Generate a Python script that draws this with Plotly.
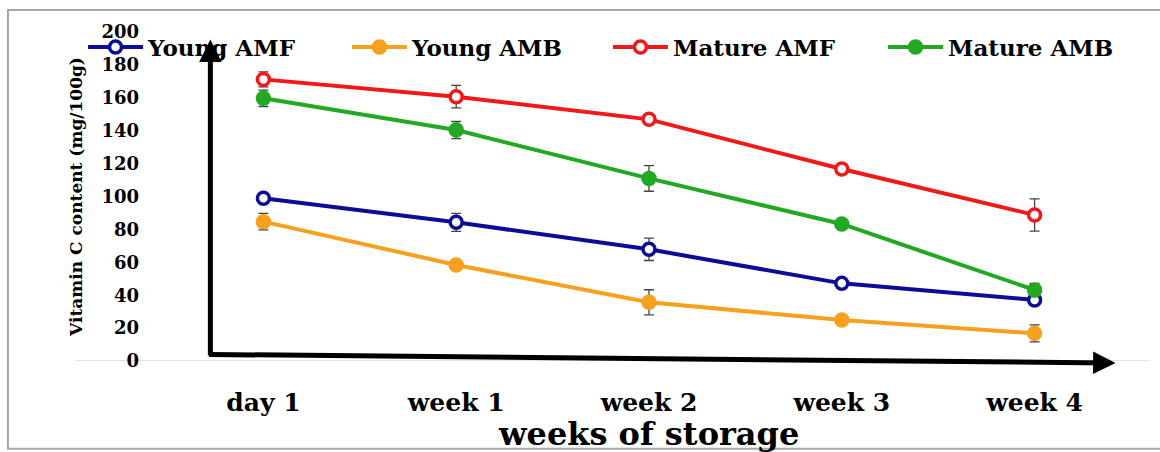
import plotly.graph_objects as go

# Storage time points
periods = ["day 1", "week 1", "week 2", "week 3", "week 4"]

# Vitamin C content (mg/100g) and standard errors per sample group
young_amf = [98.9, 84.3, 67.9, 47.2, 37.1]
young_amf_err = [2.5, 5.5, 6.8, 2.0, 3.0]

young_amb = [84.7, 58.4, 35.7, 24.9, 16.8]
young_amb_err = [5.0, 2.0, 7.6, 2.0, 5.2]

mature_amf = [171.2, 160.7, 146.9, 116.7, 88.8]
mature_amf_err = [4.5, 6.8, 2.0, 2.0, 9.8]

mature_amb = [159.7, 140.4, 111.0, 83.3, 43.2]
mature_amb_err = [5.0, 5.2, 7.8, 2.5, 4.0]

y_ticks = [0, 20, 40, 60, 80, 100, 120, 140, 160, 180, 200]

SERIF = "DejaVu Serif, Liberation Serif, serif"

# name, values, errors, colour, marker fill, legend id, legend x (container)
series = [
    ("Young AMF", young_amf, young_amf_err, "#0c0c98", "white", "legend", 0.0716),
    ("Young AMB", young_amb, young_amb_err, "#f5a01e", "#f5a01e", "legend2", 0.2991),
    ("Mature AMF", mature_amf, mature_amf_err, "#f01818", "white", "legend3", 0.5241),
    ("Mature AMB", mature_amb, mature_amb_err, "#22a822", "#22a822", "legend4", 0.7612),
]

fig = go.Figure()
xpos = list(range(len(periods)))
legend_layouts = {}
for name, vals, errs, color, fill, leg, lx in series:
    fig.add_trace(go.Scatter(
        x=xpos, y=vals, name=name, mode="lines+markers",
        line=dict(color=color, width=4),
        marker=dict(symbol="circle", size=12, color=fill,
                    line=dict(color=color, width=3.5)),
        error_y=dict(type="data", array=errs, visible=True,
                     color="#444444", thickness=1.3, width=5),
        cliponaxis=False, legend=leg,
    ))
    legend_layouts[leg] = dict(
        orientation="h", xref="container", yref="container",
        x=lx, y=0.896, xanchor="left", yanchor="middle",
        bgcolor="rgba(0,0,0,0)", itemwidth=55,
        font=dict(family=SERIF, size=23, weight="bold", color="black"),
    )

# Figure frame and light baseline
fig.add_shape(type="rect", xref="paper", yref="paper",
              x0=-0.165, x1=1.05, y0=-0.267, y1=1.067,
              line=dict(color="#a6a6a6", width=2), fillcolor="rgba(0,0,0,0)",
              layer="below")
fig.add_shape(type="line", xref="paper", yref="y",
              x0=-0.095, x1=1.019, y0=0, y1=0,
              line=dict(color="#d9d9d9", width=1.5), layer="below")

# Black arrow axes
fig.add_annotation(x=-0.275, y=195.5, ax=-0.275, ay=2.5,
                   xref="x", yref="y", axref="x", ayref="y",
                   showarrow=True, arrowhead=2, arrowsize=0.9,
                   arrowwidth=5, arrowcolor="black", text="")
fig.add_annotation(x=4.42, y=-1.2, ax=-0.29, ay=4.0,
                   xref="x", yref="y", axref="x", ayref="y",
                   showarrow=True, arrowhead=2, arrowsize=0.9,
                   arrowwidth=5, arrowcolor="black", text="")

# X-axis title
fig.add_annotation(x=0.4995, y=-0.221, xref="paper", yref="paper",
                   xanchor="center", yanchor="middle", showarrow=False,
                   text="weeks of storage",
                   font=dict(family=SERIF, size=32, weight="bold", color="black"))

fig.update_layout(
    width=1160, height=452,
    margin=dict(l=167, r=29, t=32, b=91, autoexpand=False),
    paper_bgcolor="white", plot_bgcolor="white",
    font=dict(family=SERIF, color="black"),
    showlegend=True,
    xaxis=dict(range=[-0.5, 4.5], tickmode="array", tickvals=xpos,
               ticktext=periods, showgrid=False, zeroline=False,
               showline=False, ticks="", ticklabelstandoff=24,
               automargin=False,
               tickfont=dict(family=SERIF, size=25, weight="bold")),
    yaxis=dict(range=[0, 200], tickmode="array", tickvals=y_ticks,
               showgrid=False, zeroline=False, showline=False, ticks="",
               ticklabelstandoff=27, automargin=False,
               tickfont=dict(family=SERIF, size=18, weight="bold"),
               title=dict(text="Vitamin C content (mg/100g)", standoff=14,
                          font=dict(family=SERIF, size=17, weight="bold"))),
    **legend_layouts,
)

fig.write_html("out.html")
